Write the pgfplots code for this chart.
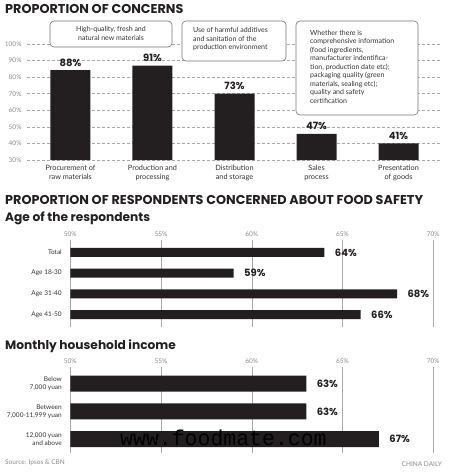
\documentclass[border=0pt]{standalone}
\usepackage{pgfplots}
\pgfplotsset{compat=1.18}
\usepackage{fontspec}
\setmainfont{Lato}
\newfontfamily\headfont{Poppins}
\newfontfamily\wmfont{Liberation Mono}
\definecolor{barc}{HTML}{231F20}
\definecolor{gridc}{HTML}{A8A8A8}
\definecolor{tickc}{HTML}{8A8A8A}
\definecolor{labc}{HTML}{333333}
\begin{document}
\begin{tikzpicture}[x=1pt,y=1pt]
\useasboundingbox (0,0) rectangle (450,-473);
% ---------- titles ----------
\node[anchor=base west,inner sep=0,font=\headfont\bfseries\fontsize{12.8}{12.8}\selectfont,text=barc] at (5,-13.3) {PROPORTION OF CONCERNS};
\node[anchor=base west,inner sep=0,font=\headfont\bfseries\fontsize{12.8}{12.8}\selectfont,text=barc] at (5,-204) {PROPORTION OF RESPONDENTS CONCERNED ABOUT FOOD SAFETY};
\node[anchor=base west,inner sep=0,font=\headfont\bfseries\fontsize{12.2}{12.2}\selectfont,text=barc] at (5,-221) {Age of the respondents};
\node[anchor=base west,inner sep=0,font=\headfont\bfseries\fontsize{12.2}{12.2}\selectfont,text=barc] at (5,-349) {Monthly household income};

% ---------- top chart ----------
\begin{axis}[at={(27pt,-160pt)},anchor=south west,scale only axis,
  width=415pt,height=116pt,
  xmin=-0.53,xmax=4.53,ymin=30,ymax=100,
  axis line style={draw=none},major tick length=0pt,
  ybar,bar width=40pt,
  ytick={30,40,50,60,70,80,90,100},
  yticklabels={30\%,40\%,50\%,60\%,70\%,80\%,90\%,100\%},
  yticklabel style={font=\fontsize{6.5}{7}\selectfont,text=tickc,xshift=-2pt},
  ymajorgrids,grid style={gridc,dash pattern=on 3pt off 2pt,line width=0.5pt},
  xtick={0,1,2,3,4},
  xticklabels={{Procurement of\\raw materials},{Production and\\processing},{Distribution\\and storage},{Sales\\process},{Presentation\\of goods}},
  xticklabel style={align=center,font=\fontsize{7.3}{8.7}\selectfont,text=labc,yshift=-2pt},
  point meta=explicit symbolic,
  nodes near coords,
  nodes near coords style={font=\headfont\bfseries\fontsize{10}{10}\selectfont,text=barc,yshift=0.5pt},
  clip=false]
\addplot[fill=barc,draw=none] coordinates {(0,84.2)[88\%] (1,87.0)[91\%] (2,70.0)[73\%] (3,45.8)[47\%] (4,40.0)[41\%]};
\end{axis}

% annotation boxes
\draw[gridc!70!black,line width=0.6pt,fill=white,rounded corners=4pt] (50,-21) rectangle (172,-47);
\node[font=\fontsize{7}{8.5}\selectfont,text=labc,align=center] at (111,-33.5) {High-quality, fresh and\\natural new materials};
\draw[gridc!70!black,line width=0.6pt,fill=white,rounded corners=4pt] (182,-21) rectangle (286,-61);
\node[font=\fontsize{7}{8.5}\selectfont,text=labc,align=left,anchor=north west,inner sep=0] at (193,-27.5) {Use of harmful additives\\and sanitation of the\\production environment};
\draw[gridc!70!black,line width=0.6pt,fill=white,rounded corners=4pt] (296,-21) rectangle (418,-115);
\node[font=\fontsize{7}{8.5}\selectfont,text=labc,align=left,anchor=north west,inner sep=0] at (310,-30) {Whether there is\\comprehensive information\\(food ingredients,\\manufacturer indentifica-\\tion, production date etc);\\packaging quality (green\\materials, sealing etc);\\quality and safety\\certification};

% ---------- age chart ----------
\begin{axis}[at={(70.3pt,-327pt)},anchor=south west,scale only axis,
  width=363pt,height=87pt,
  xmin=50,xmax=70,ymin=-0.6,ymax=3.6,y dir=reverse,
  axis line style={draw=none},major tick length=0pt,
  xbar,bar width=9pt,
  xtick={50,55,60,65,70},xticklabels={50\%,55\%,60\%,65\%,70\%},
  xticklabel pos=top,
  xticklabel style={font=\fontsize{6.5}{7}\selectfont,text=tickc},
  xmajorgrids,grid style={gridc,line width=0.6pt},
  ytick={0,1,2,3},yticklabels={Total,Age 18-30,Age 31-40,Age 41-50},
  yticklabel style={font=\fontsize{6.5}{7.5}\selectfont,text=labc,align=right,xshift=-5pt},
  point meta=explicit symbolic,
  nodes near coords,
  nodes near coords style={font=\headfont\bfseries\fontsize{10}{10}\selectfont,text=barc,anchor=west,xshift=7pt},
  clip=true]
\addplot[fill=barc,draw=none] coordinates {(64,0)[64\%] (59,1)[59\%] (68,2)[68\%] (66,3)[66\%]};
\end{axis}

% ---------- income chart ----------
\begin{axis}[at={(70.3pt,-453pt)},anchor=south west,scale only axis,
  width=363pt,height=86pt,
  xmin=50,xmax=70,ymin=-0.6,ymax=2.5,y dir=reverse,
  axis line style={draw=none},major tick length=0pt,
  xbar,bar width=16pt,
  xtick={50,55,60,65,70},xticklabels={50\%,55\%,60\%,65\%,70\%},
  xticklabel pos=top,
  xticklabel style={font=\fontsize{6.5}{7}\selectfont,text=tickc},
  xmajorgrids,grid style={gridc,line width=0.6pt},
  ytick={0,1,2},yticklabels={{Below\\7,000 yuan},{Between\\7,000-11,999 yuan},{12,000 yuan\\and above}},
  yticklabel style={font=\fontsize{6.5}{8}\selectfont,text=labc,align=right,xshift=-5pt},
  point meta=explicit symbolic,
  nodes near coords,
  nodes near coords style={font=\headfont\bfseries\fontsize{10}{10}\selectfont,text=barc,anchor=west,xshift=7pt},
  clip=true]
\addplot[fill=barc,draw=none] coordinates {(63,0)[63\%] (63,1)[63\%] (67,2)[67\%]};
\end{axis}

% watermark
\node[anchor=base west,inner sep=0,font=\wmfont\fontsize{21.5}{21.5}\selectfont,text=black] at (120,-445) {www.foodmate.com};

% footer
\node[anchor=west,inner sep=0,font=\fontsize{6.5}{7}\selectfont,text=tickc] at (5,-463) {Source: Ipsos \& CBN};
\node[anchor=east,inner sep=0,font=\fontsize{6.5}{7}\selectfont,text=tickc] at (442,-464) {CHINA DAILY};
\end{tikzpicture}
\end{document}
